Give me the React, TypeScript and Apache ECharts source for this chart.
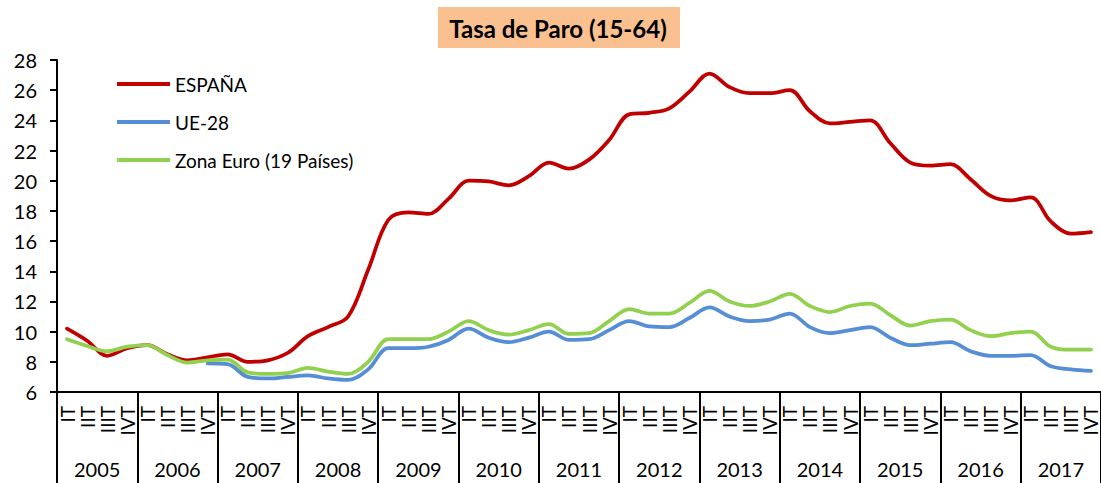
import React, { useEffect, useRef } from "react";
import * as echarts from "echarts";

const years = ["2005", "2006", "2007", "2008", "2009", "2010", "2011", "2012", "2013", "2014", "2015", "2016", "2017"];
const quarters = ["IT", "IIT", "IIIT", "IVT"];
const yTicks = { min: 6, max: 28, interval: 2 };

const espana = [
  10.2, 9.4, 8.4, 8.9,
  9.1, 8.5, 8.1, 8.3,
  8.5, 8.0, 8.1, 8.6,
  9.7, 10.3, 11.0, 14.1,
  17.4, 17.9, 17.8, 18.8,
  20.0, 19.95, 19.7, 20.3,
  21.2, 20.8, 21.4, 22.7,
  24.4, 24.5, 24.8, 25.9,
  27.1, 26.2, 25.8, 25.8,
  26.0, 24.6, 23.8, 23.9,
  24.0, 22.5, 21.2, 21.0,
  21.1, 20.1, 19.0, 18.7,
  18.9, 17.3, 16.5, 16.6,
];

const ue28 = [
  null, null, null, null,
  null, null, null, 7.9,
  7.85, 7.0, 6.9, 7.0,
  7.1, 6.9, 6.8, 7.5,
  8.9, 8.9, 9.0, 9.45,
  10.2, 9.6, 9.3, 9.6,
  10.0, 9.45, 9.5, 10.1,
  10.7, 10.35, 10.3, 10.9,
  11.6, 11.0, 10.7, 10.8,
  11.2, 10.3, 9.9, 10.1,
  10.3, 9.6, 9.1, 9.2,
  9.3, 8.7, 8.4, 8.4,
  8.45, 7.7, 7.5, 7.4,
];

const zonaEuro = [
  9.5, 9.05, 8.7, 9.0,
  9.1, 8.45, 7.95, 8.1,
  8.15, 7.3, 7.2, 7.25,
  7.6, 7.35, 7.2, 8.0,
  9.5, 9.5, 9.5, 10.0,
  10.7, 10.1, 9.8, 10.1,
  10.5, 9.85, 9.9, 10.7,
  11.5, 11.2, 11.2, 11.9,
  12.7, 12.0, 11.7, 12.0,
  12.5, 11.7, 11.3, 11.7,
  11.85, 11.1, 10.4, 10.7,
  10.8, 10.1, 9.7, 9.9,
  10.0, 9.0, 8.8, 8.8,
];

const seriesNames = ["ESPAÑA", "UE-28", "Zona Euro (19 Países)"];
const seriesColors = ["#C00000", "#558ED5", "#92D050"];
const titleText = "Tasa de Paro (15-64)";

const FONT = "Lato, 'Open Sans', sans-serif";

export default function App() {
  const ref = useRef<HTMLDivElement>(null);

  useEffect(() => {
    if (!ref.current) return;
    const chart = echarts.init(ref.current, null, { renderer: "svg" });
    const categories = years.flatMap((y) => quarters.map((q) => `${q}|${y}`));
    const data = [espana, ue28, zonaEuro];

    chart.setOption({
      animation: false,
      backgroundColor: "#ffffff",
      textStyle: { fontFamily: FONT },
      graphic: [
        {
          type: "rect",
          shape: { x: 438, y: 7, width: 242, height: 41 },
          style: { fill: "#FAC090" },
          silent: true,
        },
        {
          type: "text",
          x: 558,
          y: 28,
          style: {
            text: titleText,
            fontFamily: FONT,
            fontSize: 24,
            fontWeight: "bold",
            fill: "#000000",
            align: "center",
            verticalAlign: "middle",
          },
          silent: true,
        },
      ],
      legend: {
        orient: "vertical",
        left: 117,
        top: 74,
        padding: 0,
        itemWidth: 53,
        itemHeight: 4,
        itemGap: 18,
        icon: "rect",
        data: seriesNames,
        textStyle: { fontFamily: FONT, fontSize: 19, color: "#000000", lineHeight: 20 },
      },
      grid: { left: 57, right: -10, top: 60, bottom: 91, containLabel: false },
      xAxis: [
        {
          type: "category",
          data: categories,
          boundaryGap: true,
          axisLine: { show: true, lineStyle: { color: "#000000", width: 2 } },
          axisTick: { show: false },
          axisLabel: {
            interval: 0,
            rotate: 90,
            margin: 14,
            fontFamily: FONT,
            fontSize: 19,
            color: "#000000",
            formatter: (v: string) => v.split("|")[0],
          },
          splitLine: { show: false },
        },
        {
          type: "category",
          data: years,
          position: "bottom",
          boundaryGap: true,
          axisLine: { show: false },
          axisTick: { show: true, length: 91, interval: 0, lineStyle: { color: "#000000", width: 2 } },
          axisLabel: { interval: 0, margin: 67, fontFamily: FONT, fontSize: 20, color: "#000000" },
          splitLine: { show: false },
        },
      ],
      yAxis: {
        type: "value",
        min: yTicks.min,
        max: yTicks.max,
        interval: yTicks.interval,
        axisLine: { show: true, lineStyle: { color: "#000000", width: 2 } },
        axisTick: { show: true, length: 7, lineStyle: { color: "#000000", width: 2 } },
        axisLabel: { margin: 20, fontFamily: FONT, fontSize: 20, color: "#000000" },
        splitLine: { show: false },
      },
      series: seriesNames.map((name, i) => ({
        name,
        type: "line",
        xAxisIndex: 0,
        data: data[i],
        smooth: 0.35,
        symbol: "none",
        connectNulls: false,
        itemStyle: { color: seriesColors[i] },
        lineStyle: { color: seriesColors[i], width: 3.75, cap: "round", join: "round" },
        z: 2 + i,
      })),
    });

    return () => chart.dispose();
  }, []);

  return (
    <div
      ref={ref}
      style={{ position: "fixed", left: 0, top: 0, width: 1101, height: 483 }}
    />
  );
}
